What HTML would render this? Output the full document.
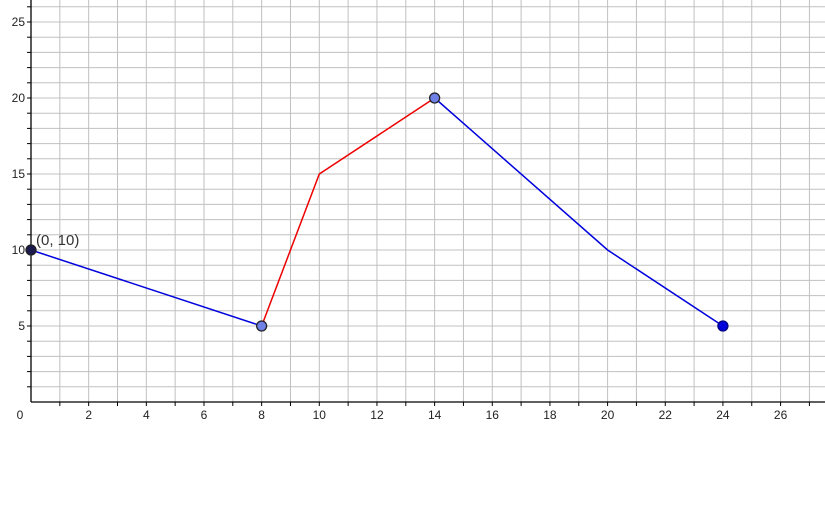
<!DOCTYPE html>
<html><head><meta charset="utf-8"><style>
body{margin:0;background:#fff;}
svg{display:block;font-family:"Liberation Sans",sans-serif;}
</style></head><body>
<svg id="chart" width="825" height="506" viewBox="0 0 825 506"></svg>
<script>
const xTicks=[0,2,4,6,8,10,12,14,16,18,20,22,24,26];
const yTicks=[5,10,15,20,25];
const segXs=[[0,8],[8,10,14],[14,20,24]];
const segYs=[[10,5],[5,15,20],[20,10,5]];
const segColors=["#0000dd","#ee0000","#0000dd"];
const ptX=[0,8,14,24];
const ptY=[10,5,20,5];
const ptFill=["#1a1a4d","#6e7fe6","#6e7fe6","#0000dd"];
const ptLabel="(0, 10)";
const X0=31,XS=28.83,Y0=402,YS=15.2;
const sx=v=>X0+v*XS, sy=v=>Y0-v*YS;
const svg=document.getElementById('chart');
const NS="http://www.w3.org/2000/svg";
function mk(t,a,p){const e=document.createElementNS(NS,t);for(const k in a)e.setAttribute(k,a[k]);(p||svg).appendChild(e);return e;}
const grid=mk('g',{});


for(let i=1;i<=28;i++){const x=sx(i);if(x>825)break;mk('line',{x1:x,x2:x,y1:0,y2:Y0,stroke:'#c0c0c0','stroke-width':1},grid);}
for(let j=1;j<=27;j++){const y=sy(j);if(y<0)break;mk('line',{x1:X0,x2:825,y1:y,y2:y,stroke:'#c0c0c0','stroke-width':1},grid);}
const ax=mk('line',{x1:X0,x2:825,y1:Y0,y2:Y0,stroke:'#000','stroke-width':1.3});


const ay=mk('line',{x1:X0,x2:X0,y1:0,y2:Y0,stroke:'#000','stroke-width':1.3});


for(let i=1;i<=27;i++){mk('line',{x1:sx(i),x2:sx(i),y1:Y0,y2:Y0+4,stroke:'#000'});}
for(let j=1;j<=26;j++){mk('line',{x1:X0-4,x2:X0,y1:sy(j),y2:sy(j),stroke:'#000'});}
xTicks.forEach(v=>{const t=mk('text',{x:v===0?20:sx(v),y:Y0+17,'font-size':12,'text-anchor':v===0?'middle':'middle',fill:'#222'});t.textContent=v;

});
yTicks.forEach(v=>{const t=mk('text',{x:X0-6,y:sy(v)+4,'font-size':12,'text-anchor':'end',fill:'#222'});t.textContent=v;

});
segXs.forEach((xs,k)=>{const pts=xs.map((x,i)=>sx(x)+','+sy(segYs[k][i])).join(' ');
const l=mk('polyline',{points:pts,fill:'none',stroke:segColors[k],'stroke-width':1.5});

});
ptX.forEach((x,i)=>{const c=mk('circle',{cx:sx(x),cy:sy(ptY[i]),r:5,fill:ptFill[i],stroke:i===3?'#000080':'#222','stroke-width':1.3});

});
const lb=mk('text',{x:sx(0)+5,y:sy(10)-5,'font-size':15,fill:'#333'});lb.textContent=ptLabel;


</script>
</body></html>
